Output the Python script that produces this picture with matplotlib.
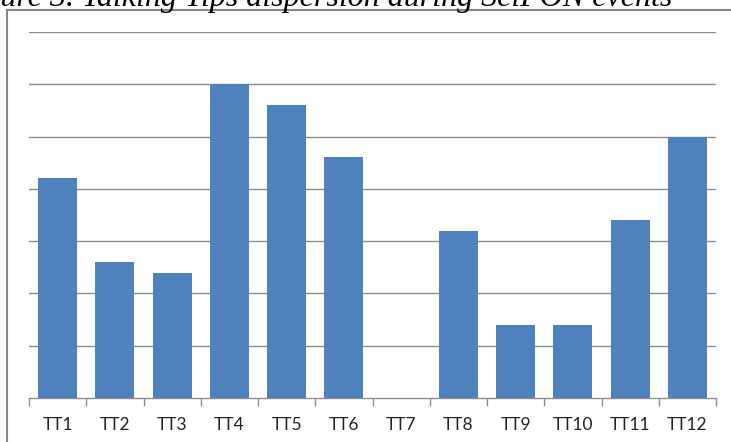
import matplotlib
matplotlib.use("Agg")
import matplotlib.pyplot as plt
from matplotlib.patches import Rectangle

# Data
categories = ["TT1", "TT2", "TT3", "TT4", "TT5", "TT6",
              "TT7", "TT8", "TT9", "TT10", "TT11", "TT12"]
values = [21, 13, 12, 30, 28, 23, 0, 16, 7, 7, 17, 25]
title = "Figure 3. Talking Tips dispersion during SelFON events"

W, H = 731, 442
fig = plt.figure(figsize=(W / 100, H / 100), dpi=100)

# plot area in pixels: x 29..716, y 32..398 (from top)
ax = fig.add_axes([29 / W, (H - 398) / H, (716 - 29) / W, (398 - 32) / H])

x = list(range(len(categories)))
ax.bar(x, values, width=0.68, color="#4F81BD", zorder=3)

ax.set_xlim(-0.5, len(categories) - 0.5)
ax.set_ylim(0, 35)
ax.set_yticks(range(5, 36, 5))
ax.yaxis.grid(True, color="#8c8c8c", linewidth=1.0, zorder=0)
ax.tick_params(axis="y", left=False, labelleft=False)

# labels at centres, tick marks on category boundaries
ax.set_xticks(x)
ax.set_xticklabels(categories, family=["Lato", "DejaVu Sans"], fontsize=12.5,
                   color="#222222")
ax.tick_params(axis="x", length=0, pad=13.5)
ax.set_xticks([i - 0.5 for i in range(len(categories) + 1)], minor=True)
ax.tick_params(axis="x", which="minor", length=6, width=1, color="#8c8c8c")

for side in ["top", "right", "left"]:
    ax.spines[side].set_visible(False)
ax.spines["bottom"].set_color("#8c8c8c")
ax.spines["bottom"].set_linewidth(1.0)

# outer chart border, running past the right and bottom edges
border = Rectangle((7 / W, -0.1), 1.2, (H - 10) / H + 0.1,
                   transform=fig.transFigure, fill=False,
                   edgecolor="#868686", linewidth=1.5)
fig.patches.append(border)

# caption, mostly cut off at the top of the image
fig.text(-44 / W, (H - 6) / H, title, family="Liberation Serif",
         style="italic", fontsize=23, va="baseline", ha="left", color="black")

fig.savefig("out.png", dpi=100)
